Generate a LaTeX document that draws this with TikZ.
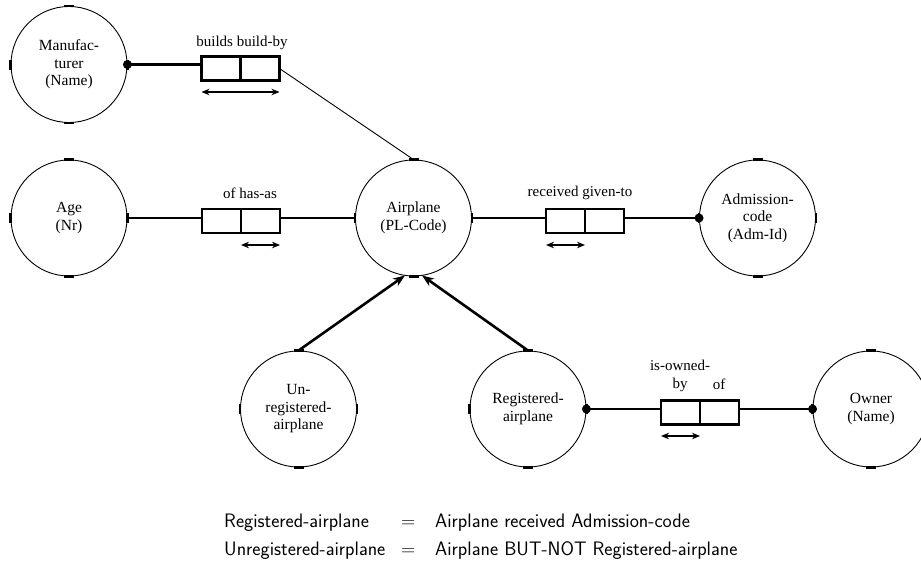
\documentclass[tikz,border=0pt]{standalone}
\usepackage{fontspec}
\setmainfont{Liberation Serif}
\usetikzlibrary{arrows.meta,calc}
\begin{document}
\begin{tikzpicture}[x=1pt,y=-1pt,
  ent/.style={circle,draw,line width=0.9pt,minimum size=116pt,inner sep=0pt,align=center,font=\fontsize{15.5}{17.5}\selectfont},
  rbox/.style={draw,line width=2.6pt,minimum width=39pt,minimum height=24pt,inner sep=0pt,outer sep=0pt},
  conn/.style={line width=1.7pt},
  thickconn/.style={line width=2.6pt},
  thinconn/.style={line width=0.9pt},
  dir/.style={line width=1.5pt,{Stealth[length=8pt,width=6.5pt]}-{Stealth[length=8pt,width=6.5pt]}},
  sub/.style={line width=2.6pt,-{Stealth[length=12pt,width=9pt]}},
  lab/.style={font=\fontsize{15}{17.5}\selectfont,inner sep=0pt,align=center},
  tickmark/.style={line width=2.6pt},
  dot/.style={circle,fill,inner sep=0pt,minimum size=9pt},
  eq/.style={font=\sffamily\fontsize{19.5}{24}\selectfont,anchor=base west,inner sep=0pt}
]
\useasboundingbox (0,0) rectangle (921,571);

% entities
\node[ent] (man) at (69,64.5) {Manufac-\\turer\\(Name)};
\node[ent] (age) at (69,218) {Age\\(Nr)};
\node[ent] (air) at (413.5,218) {Airplane\\(PL-Code)};
\node[ent] (adm) at (757.5,218) {Admission-\\code\\(Adm-Id)};
\node[ent] (unr) at (298.5,409) {Un-\\registered-\\airplane};
\node[ent] (reg) at (528,409) {Registered-\\airplane};
\node[ent] (own) at (871,409) {Owner\\(Name)};

% tick marks on the circles
\foreach \n in {man,age,air,adm,unr,reg,own}{
  \draw[tickmark] ([xshift=-5pt]\n.north) -- ([xshift=5pt]\n.north);
  \draw[tickmark] ([xshift=-5pt]\n.south) -- ([xshift=5pt]\n.south);
  \draw[tickmark] ([yshift=-5pt]\n.west) -- ([yshift=5pt]\n.west);
  \draw[tickmark] ([yshift=-5pt]\n.east) -- ([yshift=5pt]\n.east);
}

% relationship boxes
\node[rbox] (b1l) at (221,68.5) {};
\node[rbox] (b1r) at (260,68.5) {};
\node[rbox] (b2l) at (221.5,221) {};
\node[rbox] (b2r) at (260.5,221) {};
\node[rbox] (b3l) at (565.5,221) {};
\node[rbox] (b3r) at (604.5,221) {};
\node[rbox] (b4l) at (680.5,412.5) {};
\node[rbox] (b4r) at (719.5,412.5) {};

% labels
\node[lab] (l1) at (242,43) {builds build-by};
\node[lab] (l2) at (250,193) {of has-as};
\node[lab] (l3) at (580,193) {received given-to};
\node[lab] (l4a) at (680,376) {is-owned-\\by};
\node[lab,anchor=base] (l4b) at (719,389) {of};

% connectors
\draw[thickconn] (man.east) -- (man.east -| b1l.west);
\draw[thinconn] (b1r.east) -- (air.north);
\draw[conn] (age.east) -- (age.east -| b2l.west);
\draw[conn] (b2r.east |- air.west) -- (air.west);
\draw[conn] (air.east) -- (air.east -| b3l.west);
\draw[conn] (b3r.east |- adm.west) -- (adm.west);
\draw[conn] (reg.east) -- (reg.east -| b4l.west);
\draw[conn] (b4r.east |- own.west) -- (own.west);

\node[dot] (d1) at (man.east) {};
\node[dot] (d2) at (adm.west) {};
\node[dot] (d3) at (reg.east) {};
\node[dot] (d4) at (own.west) {};

% direction arrows
\draw[dir] ([yshift=-11.5pt]b1l.south west) -- ([yshift=-11.5pt]b1r.south east);
\draw[dir] ([yshift=-12pt]b2r.south west) -- ([yshift=-12pt]b2r.south east);
\draw[dir] ([yshift=-12pt]b3l.south west) -- ([yshift=-12pt]b3l.south east);
\draw[dir] ([yshift=-11.5pt]b4l.south west) -- ([yshift=-11.5pt]b4l.south east);

% subtype arrows
\draw[sub] (unr.north) -- ([xshift=-8.5pt,yshift=1pt]air.south);
\draw[sub] (reg.north) -- ([xshift=8.5pt,yshift=1pt]air.south);

% definitions
\node[eq] (e1a) at (224,527) {Registered-airplane};
\node[eq] (e1b) at (401,527) {=};
\node[eq] (e1c) at (435,527) {Airplane received Admission-code};
\node[eq] (e2a) at (224,555) {Unregistered-airplane};
\node[eq] (e2b) at (401,555) {=};
\node[eq] (e2c) at (435,555) {Airplane BUT-NOT Registered-airplane};
\end{tikzpicture}
\end{document}
